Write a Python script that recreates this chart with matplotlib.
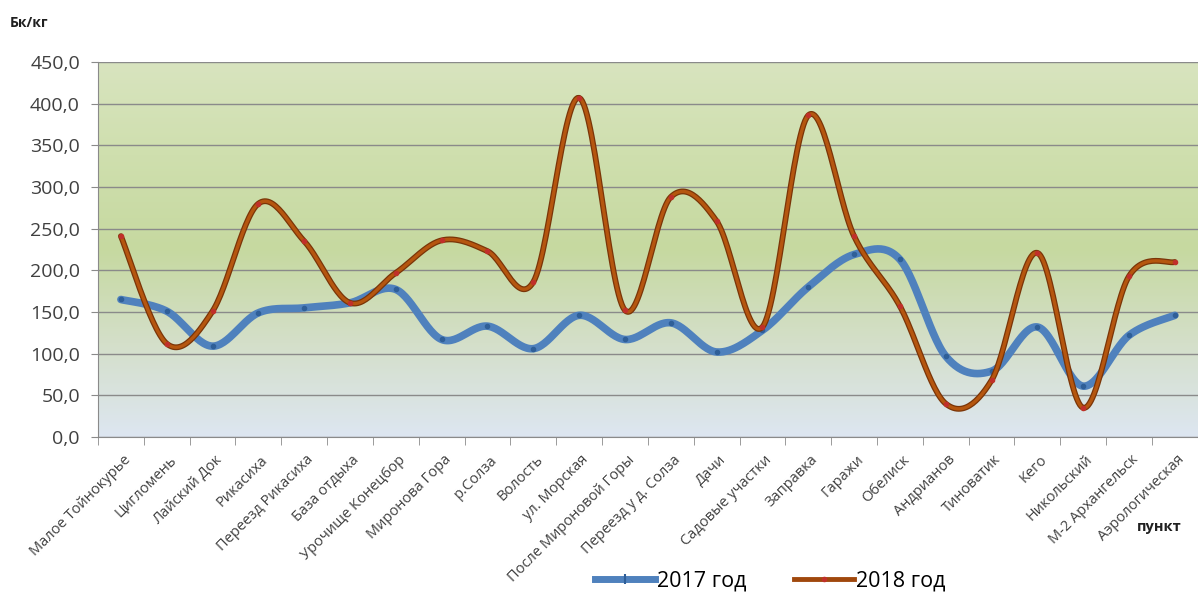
import matplotlib
matplotlib.use("Agg")
import matplotlib.pyplot as plt
import matplotlib.transforms as mtransforms
import numpy as np
from matplotlib.colors import LinearSegmentedColormap

plt.rcParams["font.family"] = ["Open Sans", "DejaVu Sans"]

points = [
    "Малое Тойнокурье", "Цигломень", "Лайский Док", "Рикасиха",
    "Переезд Рикасиха", "База отдыха", "Урочище Конецбор", "Миронова Гора",
    "р.Солза", "Волость", "ул. Морская", "После Мироновой Горы",
    "Переезд у д. Солза", "Дачи", "Садовые участки", "Заправка",
    "Гаражи", "Обелиск", "Андрианов", "Тиноватик", "Кего", "Никольский",
    "М-2 Архангельск", "Аэрологическая",
]
y2017 = [165, 151, 109, 149, 155, 161, 177, 117, 133, 106, 146, 117,
         137, 102, 128, 180, 219, 213, 97, 79, 132, 61, 122, 146]
y2018 = [241, 112, 151, 280, 235, 161, 197, 236, 223, 186, 407, 152,
         288, 259, 132, 386, 241, 157, 40, 68, 221, 35, 193, 210]
yticks = np.arange(0, 451, 50)


def smooth(xs, ys, n=30):
    # Excel-style smoothed line: Catmull-Rom segments as cubic Bezier
    xs = np.asarray(xs, float)
    ys = np.asarray(ys, float)
    p = np.column_stack([xs, ys])
    out = []
    for i in range(len(p) - 1):
        p0 = p[i - 1] if i > 0 else p[i]
        p1, p2 = p[i], p[i + 1]
        p3 = p[i + 2] if i + 2 < len(p) else p[i + 1]
        c1 = p1 + (p2 - p0) / 6
        c2 = p2 - (p3 - p1) / 6
        t = np.linspace(0, 1, n)[:, None]
        seg = ((1 - t) ** 3) * p1 + 3 * ((1 - t) ** 2) * t * c1 \
            + 3 * (1 - t) * t ** 2 * c2 + t ** 3 * p2
        out.append(seg if i == 0 else seg[1:])
    out = np.vstack(out)
    return out[:, 0], out[:, 1]


fig = plt.figure(figsize=(11.98, 6.03), dpi=100)
ax = fig.add_axes([0.0818, 0.2753, 0.918, 0.6219])

x = np.arange(len(points))
ax.set_xlim(-0.5, len(points) - 0.5)
ax.set_ylim(0, 450)

# gradient background
bg = LinearSegmentedColormap.from_list(
    "bg", [(0.0, "#dde6f1"), (0.25, "#d4dfc9"), (0.5, "#c6d9a0"),
           (0.75, "#cfdfae"), (1.0, "#d8e4bf")])
grad = np.linspace(0, 1, 256)[:, None]
ax.imshow(grad, aspect="auto", cmap=bg, origin="lower",
          extent=[-0.5, len(points) - 0.5, 0, 450], zorder=0)

for v in yticks:
    ax.axhline(v, color="#8a8a8a", lw=1.0, zorder=1)

sx, sy = smooth(x, y2017)
ax.plot(sx, sy, color="#4f81bd", lw=5.5, solid_capstyle="round", zorder=3)
ax.plot(x, y2017, ls="none", marker="o", ms=3, color="#2f5f98", zorder=4)

sx, sy = smooth(x, y2018)
ax.plot(sx, sy, color="#7a3508", lw=4.2, solid_capstyle="round", zorder=5)
ax.plot(sx, sy, color="#b5560f", lw=2.4, solid_capstyle="round", zorder=6)
ax.plot(x, y2018, ls="none", marker="o", ms=3, color="#c0302a", zorder=7)

ax.set_yticks(yticks)
ax.set_yticklabels([f"{v:.1f}".replace(".", ",") for v in yticks],
                   fontsize=14, color="#404040")
ax.tick_params(axis="y", length=5, color="#8a8a8a", pad=8)

ax.set_xticks(x)
ax.set_xticks(np.arange(-0.5, len(points), 1), minor=True)
ax.tick_params(axis="x", which="major", length=0, pad=11)
ax.tick_params(axis="x", which="minor", length=6, color="#8a8a8a")
ax.set_xticklabels(points, rotation=45, ha="right", va="top",
                   rotation_mode="anchor", fontsize=10.5, color="#404040")
shift = mtransforms.ScaledTranslation(2 / 100, 0, fig.dpi_scale_trans)
for lbl in ax.get_xticklabels():
    lbl.set_transform(lbl.get_transform() + shift)

for s in ["top", "right"]:
    ax.spines[s].set_visible(False)
for s in ["left", "bottom"]:
    ax.spines[s].set_color("#8a8a8a")

fig.text(0.008, 0.955, "Бк/кг", fontsize=10, fontweight="bold", color="#202020")
fig.text(0.968, 0.12, "пункт", fontsize=10.5, fontweight="bold",
         color="#202020", ha="center")

h1, = ax.plot([], [], color="#4f81bd", lw=5, marker="|", ms=7, mew=1.5,
              mfc="#2f5f98", mec="#2f5f98")
h2, = ax.plot([], [], color="#a0480c", lw=3.5, marker="o", ms=3,
              mfc="#c0302a", mec="#c0302a")
fig.legend([h1, h2], ["2017 год", "2018 год"], loc="center",
           bbox_to_anchor=(0.643, 0.036), ncol=2, frameon=False,
           fontsize=15.5, numpoints=1, handlelength=2.8, handletextpad=0.1,
           columnspacing=2.2)

fig.savefig("out.png", dpi=100)
